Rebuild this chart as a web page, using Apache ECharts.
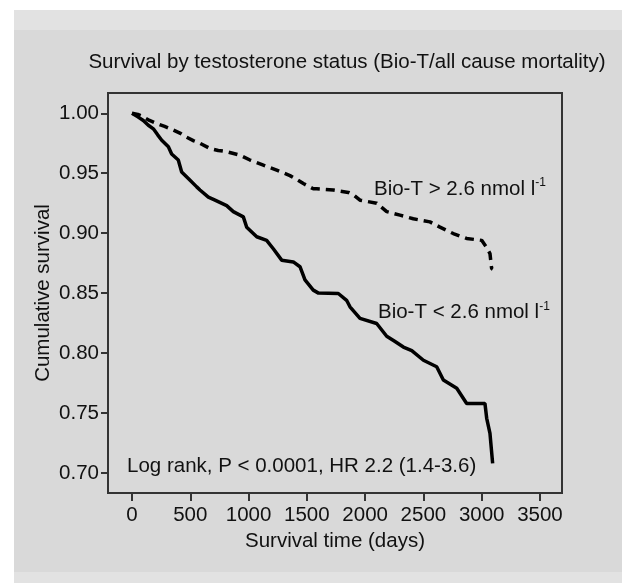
<!DOCTYPE html>
<html>
<head>
<meta charset="utf-8">
<script src="https://cdn.jsdelivr.net/npm/echarts@6/dist/echarts.min.js"></script>
<style>
body { margin: 0; background: #fff; }
#main { position: absolute; left: 14px; top: 10px; width: 608px; height: 573px; background: #e2e2e2; }
</style>
</head>
<body>
<div id="main"></div>
<script>
// Bio-T < 2.6 nmol/l (solid)
const lowDays = [0, 50, 97, 140, 183, 220, 255, 312, 340, 397, 426, 483, 555, 583, 655, 712, 812, 869, 955, 984,
    1070, 1155, 1212, 1284, 1384, 1441, 1484, 1555, 1600, 1770, 1841, 1870, 1956, 2099, 2185, 2250, 2328, 2400,
    2500, 2614, 2671, 2786, 2871, 3028, 3043, 3071, 3094];
const lowSurv = [1.000, 0.997, 0.994, 0.990, 0.987, 0.982, 0.9775, 0.972, 0.966, 0.961, 0.951, 0.9456, 0.9386, 0.936,
    0.930, 0.9275, 0.923, 0.918, 0.9136, 0.905, 0.897, 0.894, 0.887, 0.8775, 0.876, 0.872, 0.861, 0.8525, 0.850,
    0.8497, 0.844, 0.8386, 0.829, 0.8247, 0.814, 0.810, 0.805, 0.802, 0.794, 0.7886, 0.7775, 0.7706, 0.758, 0.758,
    0.7456, 0.733, 0.708];
// Bio-T > 2.6 nmol/l (dashed)
const highDays = [0, 50, 97, 150, 212, 280, 354, 420, 469, 530, 583, 669, 740, 812, 926, 1012, 1127, 1241, 1355,
    1410, 1470, 1555, 1584, 1727, 1856, 1900, 1956, 2099, 2185, 2299, 2413, 2556, 2642, 2756, 2871, 3000, 3043,
    3071, 3085, 3095];
const highSurv = [1.000, 0.999, 0.997, 0.994, 0.9914, 0.989, 0.986, 0.983, 0.980, 0.977, 0.975, 0.9706, 0.969, 0.968,
    0.965, 0.961, 0.9567, 0.9525, 0.948, 0.945, 0.9414, 0.937, 0.937, 0.936, 0.934, 0.932, 0.9275, 0.925, 0.918,
    0.915, 0.912, 0.9094, 0.905, 0.8997, 0.8956, 0.894, 0.888, 0.883, 0.8706, 0.870];

const xTicks = [0, 500, 1000, 1500, 2000, 2500, 3000, 3500];
const yTicks = [0.70, 0.75, 0.80, 0.85, 0.90, 0.95, 1.00];

const titleText = 'Survival by testosterone status (Bio-T/all cause mortality)';
const xName = 'Survival time (days)';
const yName = 'Cumulative survival';
const highLabel = 'Bio-T > 2.6 nmol l';
const lowLabel = 'Bio-T < 2.6 nmol l';
const statText = 'Log rank, P < 0.0001, HR 2.2 (1.4-3.6)';

const font = '"Liberation Sans", Arial, sans-serif';
const fs = 20.5;
const ink = '#111';
const axisColor = '#333';

function pairs(xs, ys) {
    return xs.map((x, i) => [x, ys[i]]);
}

const richLabel = {
    a: {fontSize: fs, color: ink, fontFamily: font, lineHeight: 24},
    s: {fontSize: 12, color: ink, fontFamily: font, verticalAlign: 'top', lineHeight: 14}
};

const chart = echarts.init(document.getElementById('main'));
chart.setOption({
    animation: false,
    textStyle: {fontFamily: font},
    graphic: [
        {type: 'rect', z: -10, silent: true, shape: {x: 0, y: 20, width: 608, height: 542}, style: {fill: '#d9d9d9'}},
        {type: 'text', x: 333, y: 52, style: {text: titleText, fontSize: fs, fontFamily: font, fill: ink, align: 'center', verticalAlign: 'middle'}}
    ],
    grid: {left: 94, top: 83, right: 60, bottom: 90, show: true, borderColor: axisColor, borderWidth: 2, backgroundColor: 'transparent'},
    xAxis: {
        type: 'value', min: -206, max: 3689,
        name: xName, nameLocation: 'middle', nameGap: 38,
        nameTextStyle: {fontSize: fs, color: ink},
        axisLine: {onZero: false, lineStyle: {color: axisColor, width: 2}},
        axisTick: {customValues: xTicks, length: 8, lineStyle: {color: axisColor, width: 2}},
        axisLabel: {customValues: xTicks, fontSize: fs, color: ink, margin: 12, formatter: v => String(v)},
        splitLine: {show: false}
    },
    yAxis: {
        type: 'value', min: 0.6833, max: 1.0169,
        name: yName, nameLocation: 'middle', nameGap: 54, nameMoveOverlap: false,
        nameTextStyle: {fontSize: fs, color: ink},
        axisLine: {show: true, onZero: false, lineStyle: {color: axisColor, width: 2}},
        axisTick: {show: true, customValues: yTicks, length: 7, lineStyle: {color: axisColor, width: 2}},
        axisLabel: {customValues: yTicks, fontSize: fs, color: ink, margin: 9, formatter: v => v.toFixed(2)},
        splitLine: {show: false}
    },
    series: [
        {
            type: 'line', name: 'low', data: pairs(lowDays, lowSurv), showSymbol: false,
            lineStyle: {color: '#000', width: 3.5},
            markPoint: {
                symbol: 'circle', symbolSize: 0, silent: true,
                label: {show: true, position: 'right', distance: 0},
                data: [
                    {coord: [2110, 0.8337], label: {formatter: '{a|' + lowLabel + '}{s|-1}', rich: richLabel}},
                    {coord: [-43, 0.7058], label: {formatter: '{a|' + statText + '}', rich: richLabel}}
                ]
            }
        },
        {
            type: 'line', name: 'high', data: pairs(highDays, highSurv), showSymbol: false,
            lineStyle: {color: '#000', width: 3.5, type: [9, 6]},
            markPoint: {
                symbol: 'circle', symbolSize: 0, silent: true,
                label: {show: true, position: 'right', distance: 0},
                data: [
                    {coord: [2076, 0.9367], label: {formatter: '{a|' + highLabel + '}{s|-1}', rich: richLabel}}
                ]
            }
        }
    ]
});
</script>
</body>
</html>
